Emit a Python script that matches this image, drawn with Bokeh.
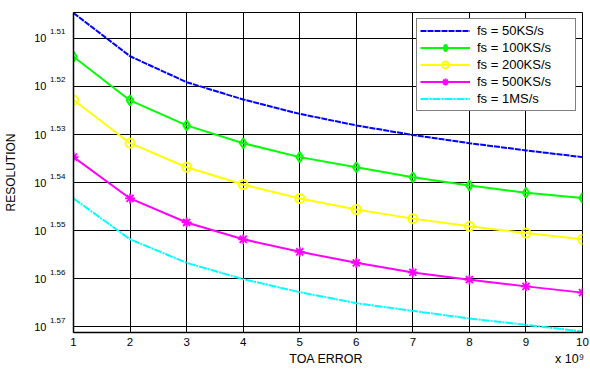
import numpy as np
from bokeh.plotting import figure
from bokeh.models import (Range1d, FixedTicker, Legend, LegendItem, LinearAxis, Grid)
from bokeh.embed import file_html
from bokeh.resources import INLINE

# ---------------- data ----------------
toa_error = [1, 2, 3, 4, 5, 6, 7, 8, 9, 10]
res_50k = [1.5047, 1.5137, 1.5191, 1.5227, 1.5257, 1.5281, 1.5301, 1.5318, 1.5333, 1.5347]
res_100k = [1.5138, 1.5229, 1.5281, 1.5318, 1.5347, 1.5368, 1.5389, 1.5406, 1.5421, 1.5432]
res_200k = [1.5228, 1.5318, 1.5368, 1.5404, 1.5433, 1.5456, 1.5475, 1.5491, 1.5505, 1.5518]
res_500k = [1.5347, 1.5433, 1.5483, 1.5518, 1.5544, 1.5567, 1.5587, 1.5602, 1.5616, 1.5629]
res_1m = [1.5433, 1.5518, 1.5567, 1.5601, 1.5628, 1.5651, 1.5667, 1.5683, 1.5696, 1.5710]

series_names = ["fs = 50KS/s", "fs = 100KS/s", "fs = 200KS/s", "fs = 500KS/s", "fs = 1MS/s"]

x_ticks = [1, 2, 3, 4, 5, 6, 7, 8, 9, 10]
y_ticks = [1.51, 1.52, 1.53, 1.54, 1.55, 1.56, 1.57]
y_base_label = "10"
y_exp_labels = ["1.51", "1.52", "1.53", "1.54", "1.55", "1.56", "1.57"]
x_label = "TOA  ERROR"
y_label = "RESOLUTION"
x_mult_label = "x 10\u2079"

FONT = "Liberation Sans"

# ---------------- geometry ----------------
W, H = 590, 371
BL, BR, BT, BB = 73, 8, 12, 39
y_range = Range1d(start=1.5712, end=1.5046)   # reversed axis
x_range = Range1d(start=1, end=10)
px_per_y = (H - BT - BB) / (y_range.start - y_range.end)
px_per_x = (W - BL - BR) / (x_range.end - x_range.start)
exp_shift = 6.5 / px_per_y          # raise exponents by ~6.5 px
x_mid = round((x_range.start + x_range.end) / 2, 2)
mult_pos = round(x_range.end - 13 / px_per_x, 2)

p = figure(width=W, height=H, x_range=x_range, y_range=y_range,
           output_backend="svg", toolbar_location=None, y_axis_location=None,
           min_border_left=BL, min_border_right=BR,
           min_border_top=BT, min_border_bottom=BB)
p.extra_y_ranges = {"exp": Range1d(start=y_range.start + exp_shift, end=y_range.end + exp_shift)}

p.background_fill_color = "white"
p.border_fill_color = "white"
p.outline_line_color = "black"
p.outline_line_width = 1

# ---- y axes: exponent axis nearest the frame, then the "10" axis ----
exp_axis = LinearAxis(y_range_name="exp", ticker=FixedTicker(ticks=y_ticks),
                      major_label_overrides=dict(zip(y_ticks, y_exp_labels)))
exp_axis.axis_line_color = "black"
exp_axis.axis_line_width = 1.5
exp_axis.major_tick_line_color = None
exp_axis.major_tick_in = 0
exp_axis.major_tick_out = 0
exp_axis.minor_tick_line_color = None
exp_axis.minor_tick_in = 0
exp_axis.minor_tick_out = 0
exp_axis.major_label_standoff = 8
exp_axis.major_label_text_font = FONT
exp_axis.major_label_text_font_size = "8px"
exp_axis.major_label_text_color = "black"
p.add_layout(exp_axis, "left")

base_axis = LinearAxis(ticker=FixedTicker(ticks=y_ticks),
                       major_label_overrides={t: y_base_label for t in y_ticks})
base_axis.axis_line_color = None
base_axis.major_tick_line_color = None
base_axis.major_tick_in = 0
base_axis.major_tick_out = 0
base_axis.minor_tick_line_color = None
base_axis.minor_tick_in = 0
base_axis.minor_tick_out = 0
base_axis.major_label_standoff = 0
base_axis.major_label_text_font = FONT
base_axis.major_label_text_font_size = "11px"
base_axis.major_label_text_color = "black"
base_axis.axis_label = y_label
base_axis.axis_label_standoff = 13
base_axis.axis_label_text_font = FONT
base_axis.axis_label_text_font_size = "12px"
base_axis.axis_label_text_font_style = "normal"
base_axis.axis_label_text_color = "black"
p.add_layout(base_axis, "left")

# ---- x axis ----
p.xaxis.ticker = FixedTicker(ticks=x_ticks)
p.xaxis.axis_line_color = "black"
p.xaxis.axis_line_width = 1.5
p.xaxis.major_tick_in = 4
p.xaxis.major_tick_out = 0
p.xaxis.major_tick_line_color = "black"
p.xaxis.minor_tick_line_color = None
p.xaxis.minor_tick_out = 0
p.xaxis.major_label_text_font = FONT
p.xaxis.major_label_text_font_size = "11.5px"
p.xaxis.major_label_text_color = "black"
p.xaxis.major_label_standoff = 5

title_axis = LinearAxis(ticker=FixedTicker(ticks=[x_mid, mult_pos]),
                        major_label_overrides={x_mid: x_label, mult_pos: x_mult_label})
title_axis.axis_line_color = None
title_axis.major_tick_line_color = None
title_axis.major_tick_in = 0
title_axis.major_tick_out = 0
title_axis.minor_tick_line_color = None
title_axis.minor_tick_out = 0
title_axis.major_label_standoff = 3
title_axis.major_label_text_font = FONT
title_axis.major_label_text_font_size = "12.5px"
title_axis.major_label_text_color = "black"
p.add_layout(title_axis, "below")

# ---- grids ----
p.xgrid.grid_line_color = "black"
p.xgrid.grid_line_width = 1
p.xgrid.grid_line_alpha = 1
p.add_layout(Grid(dimension=1, ticker=FixedTicker(ticks=y_ticks),
                  grid_line_color="black", grid_line_width=1))

# ---------------- series ----------------
r_blue = p.line(toa_error, res_50k, line_color="#0000ff", line_width=2, line_dash="6 1")

r_green_l = p.line(toa_error, res_100k, line_color="#00ff00", line_width=2)
r_green_m = p.scatter(toa_error, res_100k, marker="diamond", size=10,
                      line_color="#00ff00", line_width=2, fill_alpha=0)

r_yel_l = p.line(toa_error, res_200k, line_color="#ffff00", line_width=2)
r_yel_m = p.scatter(toa_error, res_200k, marker="circle", size=9,
                    line_color="#ffff00", line_width=2, fill_alpha=0)

r_mag_l = p.line(toa_error, res_500k, line_color="#ff00ff", line_width=2)
r_mag_m = p.scatter(toa_error, res_500k, marker="asterisk", size=10,
                    line_color="#ff00ff", line_width=1.8)

r_cyan = p.line(toa_error, res_1m, line_color="#00ffff", line_width=2, line_dash="8 1 2 1")

# ---------------- legend ----------------
legend = Legend(items=[
    LegendItem(label=series_names[0], renderers=[r_blue]),
    LegendItem(label=series_names[1], renderers=[r_green_l, r_green_m]),
    LegendItem(label=series_names[2], renderers=[r_yel_l, r_yel_m]),
    LegendItem(label=series_names[3], renderers=[r_mag_l, r_mag_m]),
    LegendItem(label=series_names[4], renderers=[r_cyan]),
], location="top_right")
legend.margin = 6
legend.padding = 3
legend.spacing = 0
legend.label_height = 17
legend.glyph_height = 17
legend.glyph_width = 50
legend.label_standoff = 7
legend.label_width = 95
legend.label_text_font = FONT
legend.label_text_font_size = "13px"
legend.label_text_color = "black"
legend.border_line_color = "black"
legend.border_line_width = 1
legend.background_fill_color = "white"
legend.background_fill_alpha = 1
p.add_layout(legend, "center")

open("out.html", "w").write(file_html(p, INLINE))
